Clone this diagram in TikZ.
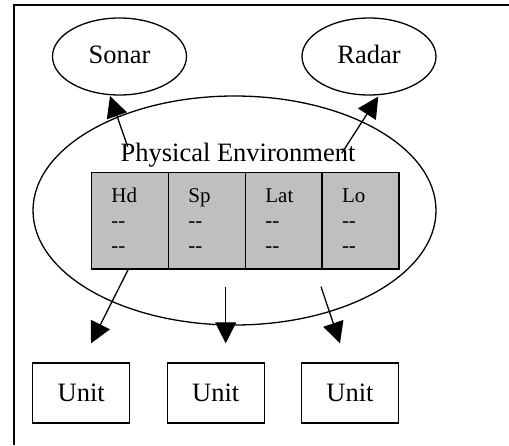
\documentclass[tikz,border=0pt]{standalone}
\usepackage{fontspec}
\setmainfont{Liberation Serif}
\usetikzlibrary{shapes.geometric,arrows.meta}
\tikzset{
  line/.style={line width=1.3pt},
  oval/.style={line, draw, ellipse, inner sep=0pt},
  bigfont/.style={font=\fontsize{26.5}{30}\selectfont},
  smallfont/.style={font=\fontsize{21}{25}\selectfont},
  cellbox/.style={line, draw, fill=gray!50, minimum width=77pt, minimum height=96.6pt, inner sep=0pt},
  unitbox/.style={line, draw, minimum width=97pt, minimum height=60pt, inner sep=0pt, bigfont},
  celltext/.style={smallfont, anchor=base west, inner sep=0pt},
  conn/.style={line, -{Triangle[length=21pt,width=21pt]}},
}
\begin{document}
\begin{tikzpicture}[x=1pt,y=-1pt]
\useasboundingbox (0,0) rectangle (509,445);
% frame (top and left only visible)
\coordinate (fbl) at (14,445);
\coordinate (ftl) at (14,5);
\coordinate (ftr) at (509,5);
\draw[line] (fbl) -- (ftl) -- (ftr);
% top ellipses
\node[oval, minimum width=134pt, minimum height=77pt, bigfont] (sonar) at (119.5,56.5) {};
\node[bigfont, anchor=base] (sonartxt) at (119.5,63.3) {Sonar};
\node[oval, minimum width=134pt, minimum height=77pt, bigfont] (radar) at (369,56.5) {};
\node[bigfont, anchor=base] (radartxt) at (369,63.3) {Radar};
% environment ellipse
\node[oval, minimum width=403pt, minimum height=229pt] (env) at (234.5,210.5) {};
\node[bigfont, anchor=base] (envtxt) at (238,161.7) {Physical Environment};
% cells
\foreach \t/\x [count=\i] in {Hd/90.7,Sp/167.7,Lat/244.7,Lo/321.3} {
  \node[cellbox, anchor=north west] (c\i) at (\x,171.7) {};
  \node[celltext] (t\i) at (\x+20.5,202.7) {\t};
  \node[celltext] (da\i) at (\x+20.5,227.7) {-{}-};
  \node[celltext] (db\i) at (\x+20.5,252.7) {-{}-};
}
% units
\node[unitbox] (u1) at (81.3,393) {Unit};
\node[unitbox] (u2) at (215.8,393) {Unit};
\node[unitbox] (u3) at (350,393) {Unit};
% connector ends
\coordinate (s1) at (127.7,146.7);
\coordinate (e1) at (110,96);
\coordinate (s2) at (341.7,153.3);
\coordinate (e2) at (378.3,96.5);
\coordinate (s3) at (128.3,269.3);
\coordinate (e3) at (91,343.3);
\coordinate (s4) at (225.7,286.7);
\coordinate (e4) at (225.7,343.3);
\coordinate (s5) at (321,286.7);
\coordinate (e5) at (340,343.3);
\draw[conn] (s1) -- (e1);
\draw[conn] (s2) -- (e2);
\draw[conn] (s3) -- (e3);
\draw[conn] (s4) -- (e4);
\draw[conn] (s5) -- (e5);
\end{tikzpicture}
\end{document}
